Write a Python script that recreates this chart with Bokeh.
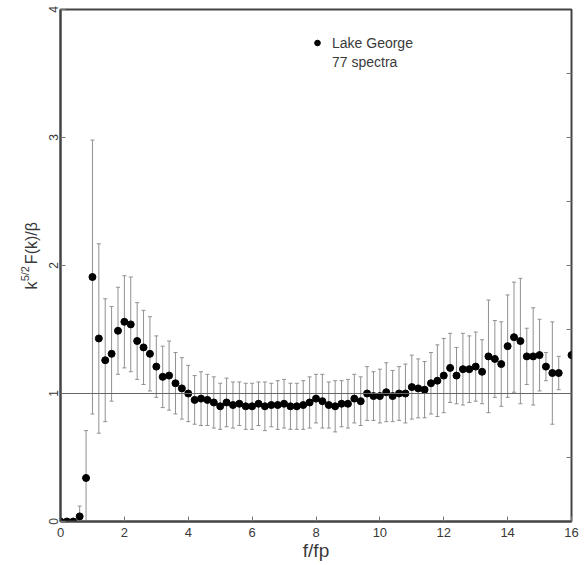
from math import pi
from bokeh.plotting import figure
from bokeh.layouts import row
from bokeh.models import (ColumnDataSource, Whisker, Span, Label, Legend, LegendItem,
                          FixedTicker, LinearAxis, Range1d, TeeHead)
from bokeh.embed import file_html
from bokeh.resources import INLINE

# ---- data ----
f_fp = [0.0, 0.2, 0.4, 0.6, 0.8, 1.0, 1.2, 1.4, 1.6, 1.8, 2.0, 2.2, 2.4, 2.6, 2.8,
        3.0, 3.2, 3.4, 3.6, 3.8, 4.0, 4.2, 4.4, 4.6, 4.8, 5.0, 5.2, 5.4, 5.6, 5.8,
        6.0, 6.2, 6.4, 6.6, 6.8, 7.0, 7.2, 7.4, 7.6, 7.8, 8.0, 8.2, 8.4, 8.6, 8.8,
        9.0, 9.2, 9.4, 9.6, 9.8, 10.0, 10.2, 10.4, 10.6, 10.8, 11.0, 11.2, 11.4, 11.6,
        11.8, 12.0, 12.2, 12.4, 12.6, 12.8, 13.0, 13.2, 13.4, 13.6, 13.8, 14.0, 14.2,
        14.4, 14.6, 14.8, 15.0, 15.2, 15.4, 15.6, 16.0]
value = [0.0, 0.0, 0.0, 0.04, 0.34, 1.91, 1.43, 1.26, 1.31, 1.49, 1.56, 1.54, 1.41, 1.36, 1.31,
         1.21, 1.13, 1.14, 1.08, 1.04, 1.00, 0.95, 0.96, 0.95, 0.93, 0.90, 0.93, 0.91, 0.92, 0.90,
         0.90, 0.92, 0.90, 0.91, 0.91, 0.92, 0.90, 0.90, 0.91, 0.93, 0.96, 0.94, 0.91, 0.90, 0.92,
         0.92, 0.96, 0.94, 1.00, 0.98, 0.98, 1.01, 0.98, 1.00, 1.00, 1.05, 1.04, 1.03, 1.08,
         1.10, 1.14, 1.20, 1.14, 1.19, 1.19, 1.21, 1.17, 1.29, 1.27, 1.23, 1.37, 1.44,
         1.41, 1.29, 1.29, 1.30, 1.21, 1.16, 1.16, 1.30]
err = [0.0, 0.0, 0.0, 0.08, 0.37, 1.07, 0.74, 0.48, 0.37, 0.34, 0.36, 0.37, 0.30, 0.29, 0.29,
       0.24, 0.24, 0.27, 0.24, 0.24, 0.22, 0.19, 0.21, 0.20, 0.20, 0.18, 0.19, 0.18, 0.17, 0.18,
       0.18, 0.17, 0.19, 0.17, 0.19, 0.19, 0.18, 0.18, 0.19, 0.20, 0.19, 0.21, 0.18, 0.20, 0.18,
       0.19, 0.19, 0.19, 0.21, 0.19, 0.21, 0.23, 0.20, 0.21, 0.23, 0.25, 0.23, 0.22, 0.24,
       0.28, 0.29, 0.27, 0.22, 0.28, 0.26, 0.27, 0.25, 0.44, 0.30, 0.33, 0.40, 0.43,
       0.49, 0.22, 0.38, 0.28, 0.11, 0.40, 0.13, 0.0]
x_ticks = [0, 2, 4, 6, 8, 10, 12, 14, 16]
y_ticks = [0, 1, 2, 3, 4]
right_ticks = [0.5, 1.0, 1.5, 2.0, 2.5, 3.0, 3.5]
reference_level = 1.0
legend_labels = ["Lake George", "77 spectra"]
x_title = "f/fp"
y_title_parts = ["k", "5/2", "F(k)/β"]

FONT = "Liberation Sans"
TXT = "#3a3a3a"
W_LEFT = 42
H = 565

upper = [v + e for v, e in zip(value, err)]
lower = [v - e for v, e in zip(value, err)]
src = ColumnDataSource(dict(x=f_fp, y=value, upper=upper, lower=lower))

p = figure(width=585 - W_LEFT, height=H, x_range=Range1d(0, 16), y_range=Range1d(0, 4),
           output_backend="svg", toolbar_location=None,
           min_border_left=60 - W_LEFT, min_border_right=14, min_border_top=9,
           min_border_bottom=44)
p.grid.visible = False
p.outline_line_color = "#444444"
p.outline_line_width = 2
p.background_fill_color = "white"

# axes
p.xaxis.ticker = FixedTicker(ticks=x_ticks)
p.yaxis.ticker = FixedTicker(ticks=y_ticks)
for ax in (p.xaxis[0], p.yaxis[0]):
    ax.axis_line_color = "#444444"
    ax.axis_line_width = 2
    ax.major_tick_in = 5
    ax.major_tick_out = 0
    ax.minor_tick_in = 0
    ax.minor_tick_out = 0
    ax.major_tick_line_color = "#777777"
    ax.major_label_text_font = FONT
    ax.major_label_text_color = TXT
p.xaxis.major_label_standoff = 6
p.xaxis.major_label_text_font_size = "13px"
p.xaxis.axis_label = x_title
p.xaxis.axis_label_text_font = FONT
p.xaxis.axis_label_text_font_size = "19px"
p.xaxis.axis_label_text_font_style = "normal"
p.xaxis.axis_label_text_color = TXT
p.xaxis.axis_label_standoff = 0
p.yaxis.major_label_standoff = 3
p.yaxis.major_label_text_font_size = "12px"
p.yaxis.major_label_orientation = "vertical"

rax = LinearAxis(ticker=FixedTicker(ticks=right_ticks))
rax.axis_line_color = None
rax.major_tick_in = 5
rax.major_tick_out = 0
rax.minor_tick_in = 0
rax.minor_tick_out = 0
rax.major_tick_line_color = "#777777"
rax.major_label_text_font_size = "1px"
rax.major_label_text_alpha = 0
rax.major_label_standoff = 0
p.add_layout(rax, "right")

# reference line
p.add_layout(Span(location=reference_level, dimension="width",
                  line_color="#666666", line_width=1))

# error bars
w = Whisker(source=src, base="x", upper="upper", lower="lower",
            line_color="#909090", line_width=1,
            upper_head=TeeHead(size=4, line_color="#909090", line_width=1),
            lower_head=TeeHead(size=4, line_color="#909090", line_width=1))
p.add_layout(w)

pts = p.scatter("x", "y", source=src, size=7, fill_color="black", line_color="black")
dummy = p.scatter(x=[], y=[], size=6, fill_alpha=0, line_alpha=0)

legend = Legend(items=[LegendItem(label=legend_labels[0], renderers=[pts]),
                       LegendItem(label=legend_labels[1], renderers=[dummy])],
                location=(250, 450), border_line_color=None, background_fill_alpha=0,
                padding=0, margin=0, spacing=0, label_height=19, glyph_height=19,
                glyph_width=14, label_standoff=8, label_text_font_size="14px",
                label_text_font=FONT, label_text_color=TXT)
p.add_layout(legend)

# left strip holding the rotated y-axis title (page pixel coordinates, y up)
q = figure(width=W_LEFT, height=H, x_range=Range1d(0, W_LEFT), y_range=Range1d(0, H),
           output_backend="svg", toolbar_location=None, x_axis_type=None, y_axis_type=None,
           min_border=0)
q.grid.visible = False
q.outline_line_color = None
q.add_layout(Label(x=31, y=H - 309, text=y_title_parts[0], angle=pi / 2, text_font=FONT,
                   text_font_size="16px", text_color=TXT, text_align="left",
                   text_baseline="middle"))
q.add_layout(Label(x=24.5, y=H - 300, text=y_title_parts[1], angle=pi / 2, text_font=FONT,
                   text_font_size="11px", text_color=TXT, text_align="left",
                   text_baseline="middle"))
q.add_layout(Label(x=31, y=H - 281, text=y_title_parts[2], angle=pi / 2, text_font=FONT,
                   text_font_size="16px", text_color=TXT, text_align="left",
                   text_baseline="middle"))

layout = row(q, p, spacing=0)
open("out.html", "w").write(file_html(layout, INLINE))
